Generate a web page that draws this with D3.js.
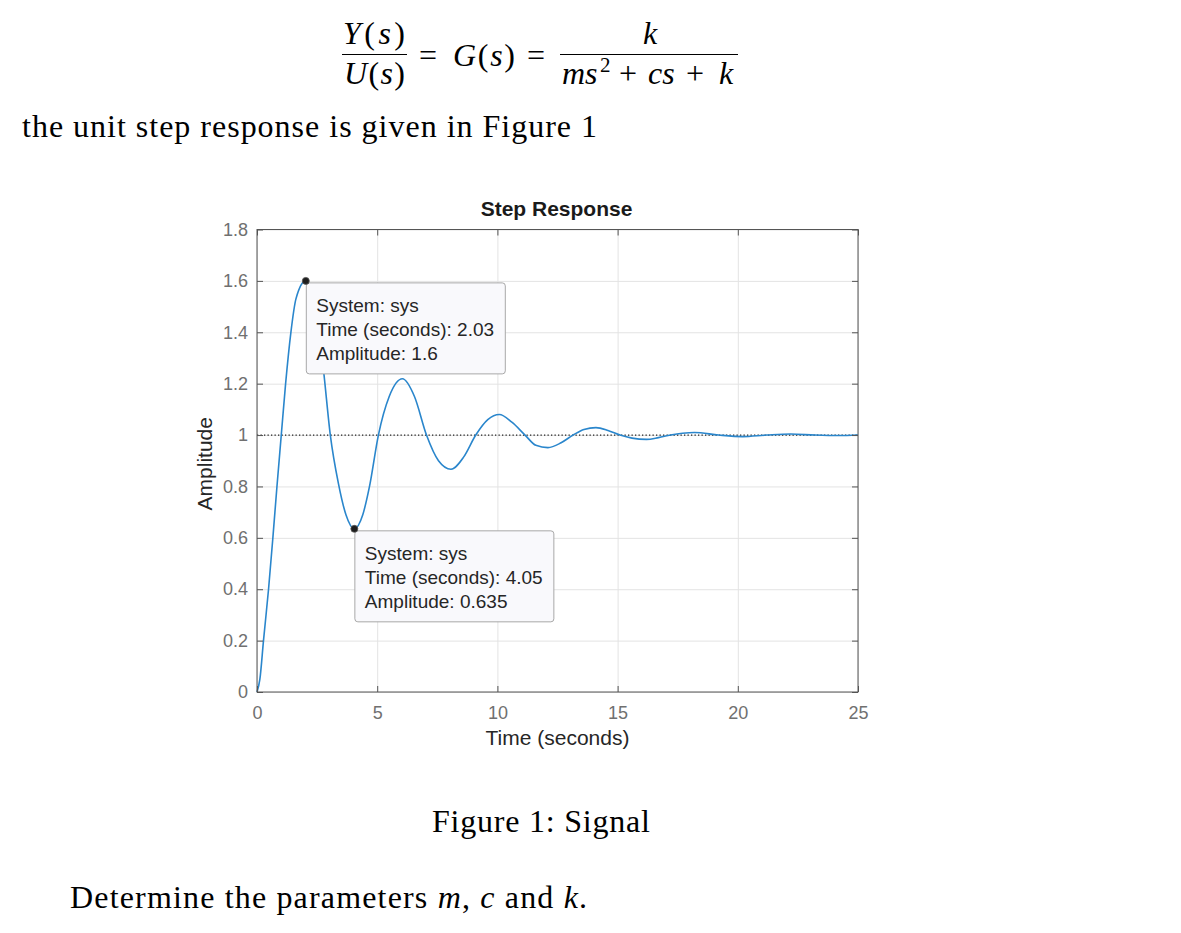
<!DOCTYPE html>
<html>
<head>
<meta charset="utf-8">
<script src="https://cdn.jsdelivr.net/npm/d3@7"></script>
<style>
  html, body { margin: 0; padding: 0; background: #ffffff; }
  svg { display: block; }
</style>
</head>
<body>
<svg id="page" width="1181" height="933"></svg>
<script>
// ---------------- data ----------------
const time = [0, 0.12, 0.27, 0.48, 0.66, 0.83, 1.01, 1.19, 1.41, 1.62, 2.03,
  2.45, 2.77, 3.05, 3.39, 3.7, 4.05, 4.4, 4.68, 5.05, 5.5, 6.05, 6.55, 7.05,
  7.55, 8.07, 8.6, 9.1, 9.6, 10.08, 10.6, 11.15, 11.6, 12.1, 12.65, 13.15,
  13.6, 14.1, 14.6, 15.1, 15.6, 16.2, 16.7, 17.2, 17.7, 18.2, 19.2, 20.2,
  21.2, 22.2, 23.2, 24.2, 25];
const amplitude = [0, 0.05, 0.2, 0.4, 0.6, 0.8, 1.0, 1.2, 1.4, 1.53, 1.6,
  1.5, 1.25, 1.0, 0.81, 0.69, 0.635, 0.69, 0.8, 1.0, 1.15, 1.219, 1.15, 1.0,
  0.9, 0.867, 0.915, 1.0, 1.06, 1.08, 1.05, 1.0, 0.96, 0.951, 0.97, 1.0,
  1.022, 1.029, 1.018, 1.0, 0.988, 0.983, 0.99, 1.0, 1.007, 1.01, 1.0, 0.994,
  1.0, 1.004, 1.0, 0.998, 1.0];
const finalValue = 1;
const xTicks = [0, 5, 10, 15, 20, 25];
const xTickLabels = ["0", "5", "10", "15", "20", "25"];
const yTicks = [0, 0.2, 0.4, 0.6, 0.8, 1, 1.2, 1.4, 1.6, 1.8];
const yTickLabels = ["0", "0.2", "0.4", "0.6", "0.8", "1", "1.2", "1.4", "1.6", "1.8"];
const tipTime = [2.03, 4.05];
const tipAmp = [1.6, 0.635];
const tipLines = [
  ["System: sys", "Time (seconds): 2.03", "Amplitude: 1.6"],
  ["System: sys", "Time (seconds): 4.05", "Amplitude: 0.635"]
];
const chartTitle = "Step Response";
const xLabel = "Time (seconds)";
const yLabel = "Amplitude";

// ---------------- layout ----------------
const svg = d3.select("#page");
const L = 257, R = 858, T = 229.5, B = 692;
const x = d3.scaleLinear().domain([0, 25]).range([L, R]);
const y = d3.scaleLinear().domain([0, 1.8]).range([B, T]);
const sans = "'Liberation Sans', Arial, Helvetica, sans-serif";
const serif = "'Liberation Serif', 'Times New Roman', serif";
const FS = 32;

// ---------------- document text ----------------
const doc = svg.append("g").attr("font-family", serif).attr("fill", "#000");
// parts: [text, style, x, dy, size]
function mathText(g, px, py, parts, len) {
  const t = g.append("text").attr("x", px).attr("y", py).attr("font-size", FS);
  parts.forEach(p => {
    const s = t.append("tspan").text(p[0]);
    if (p[1] === "i") s.attr("font-style", "italic");
    if (p[2] != null) s.attr("x", p[2]);
    if (p[3] != null) s.attr("dy", p[3]);
    if (p[4] != null) s.attr("font-size", p[4]);
  });
  if (len) t.attr("textLength", len).attr("lengthAdjust", "spacing");
  return t;
}
mathText(doc, 343, 43.5, [["Y", "i"], ["("], ["s", "i"], [")"]], 62);
doc.append("line").attr("x1", 342).attr("x2", 407).attr("y1", 54.5).attr("y2", 54.5)
  .attr("stroke", "#000").attr("stroke-width", 1.2);
mathText(doc, 344, 84, [["U", "i"], ["("], ["s", "i"], [")"]], 61);
mathText(doc, 419, 66, [["="]], 23);
mathText(doc, 453, 66, [["G", "i"], ["("], ["s", "i"], [")"]], 62);
mathText(doc, 527, 66, [["="]], 22);
mathText(doc, 643, 43.5, [["k", "i"]], 15);
doc.append("line").attr("x1", 560).attr("x2", 738).attr("y1", 54.5).attr("y2", 54.5)
  .attr("stroke", "#000").attr("stroke-width", 1.2);
mathText(doc, 562, 84, [
  ["ms", "i"], ["2", null, 600, -12, 21], ["+", null, 619, 12], ["cs", "i", 648],
  ["+", null, 686], ["k", "i", 719]
]);

doc.append("text").attr("x", 22).attr("y", 137).attr("font-size", FS)
  .attr("textLength", 575).attr("lengthAdjust", "spacing")
  .text("the unit step response is given in Figure 1");
doc.append("text").attr("x", 432).attr("y", 832).attr("font-size", FS)
  .attr("textLength", 218).attr("lengthAdjust", "spacing")
  .text("Figure 1: Signal");
const det = doc.append("text").attr("x", 70).attr("y", 908).attr("font-size", FS);
det.append("tspan").text("Determine the parameters ");
det.append("tspan").attr("font-style", "italic").text("m");
det.append("tspan").text(", ");
det.append("tspan").attr("font-style", "italic").text("c");
det.append("tspan").text(" and ");
det.append("tspan").attr("font-style", "italic").text("k");
det.append("tspan").text(".");
det.attr("textLength", 517).attr("lengthAdjust", "spacing");

// ---------------- chart ----------------
const chart = svg.append("g");
// grid
chart.append("g").attr("transform", `translate(0,${B})`)
  .call(d3.axisBottom(x).tickValues(xTicks).tickSize(-(B - T)).tickFormat(""))
  .call(g => g.select(".domain").remove())
  .call(g => g.selectAll("line").attr("stroke", "#e3e3e3"));
chart.append("g").attr("transform", `translate(${L},0)`)
  .call(d3.axisLeft(y).tickValues(yTicks).tickSize(-(R - L)).tickFormat(""))
  .call(g => g.select(".domain").remove())
  .call(g => g.selectAll("line").attr("stroke", "#e3e3e3"));

// final value dotted line
chart.append("line").attr("x1", x(0)).attr("x2", x(25))
  .attr("y1", y(finalValue)).attr("y2", y(finalValue))
  .attr("stroke", "#222").attr("stroke-width", 1.3).attr("stroke-dasharray", "1.3 2.2");

// response curve
const pts = time.map((t, i) => [t, amplitude[i]]);
chart.append("path").datum(pts)
  .attr("fill", "none").attr("stroke", "#2a86cc").attr("stroke-width", 1.6)
  .attr("d", d3.line().x(d => x(d[0])).y(d => y(d[1])).curve(d3.curveMonotoneX));

// axes (ticks inward on all sides)
const axColor = "#555";
function styleAxis(g) {
  g.select(".domain").remove();
  g.selectAll("line").attr("stroke", axColor);
  g.selectAll("text").attr("fill", "#707070").attr("font-family", sans).attr("font-size", 18);
}
chart.append("g").attr("transform", `translate(0,${B})`)
  .call(d3.axisBottom(x).tickValues(xTicks).tickFormat((d, i) => xTickLabels[i])
    .tickSizeInner(-6).tickSizeOuter(0).tickPadding(14))
  .call(styleAxis);
chart.append("g").attr("transform", `translate(0,${T})`)
  .call(d3.axisTop(x).tickValues(xTicks).tickFormat("").tickSizeInner(-6).tickSizeOuter(0))
  .call(styleAxis);
chart.append("g").attr("transform", `translate(${L},0)`)
  .call(d3.axisLeft(y).tickValues(yTicks).tickFormat((d, i) => yTickLabels[i])
    .tickSizeInner(-6).tickSizeOuter(0).tickPadding(9))
  .call(styleAxis);
chart.append("g").attr("transform", `translate(${R},0)`)
  .call(d3.axisRight(y).tickValues(yTicks).tickFormat("").tickSizeInner(-6).tickSizeOuter(0))
  .call(styleAxis);
chart.append("rect").attr("x", L).attr("y", T).attr("width", R - L).attr("height", B - T)
  .attr("fill", "none").attr("stroke", axColor).attr("stroke-width", 1);

// labels
chart.append("text").attr("x", (L + R) / 2 - 1).attr("y", 216).attr("text-anchor", "middle")
  .attr("font-family", sans).attr("font-weight", "bold").attr("font-size", 21)
  .attr("fill", "#1a1a1a").text(chartTitle);
chart.append("text").attr("x", (L + R) / 2).attr("y", 745).attr("text-anchor", "middle")
  .attr("font-family", sans).attr("font-size", 21).attr("fill", "#262626").text(xLabel);
chart.append("text").attr("transform", `translate(212,${(T + B) / 2 + 3}) rotate(-90)`)
  .attr("text-anchor", "middle").attr("font-family", sans).attr("font-size", 21)
  .attr("fill", "#262626").text(yLabel);

// data tips
tipTime.forEach((t, i) => {
  const mx = x(t), my = y(tipAmp[i]);
  const g = chart.append("g").attr("transform", `translate(${mx + 0.5},${my + 2})`);
  g.append("rect").attr("width", 199).attr("height", 91).attr("rx", 3)
    .attr("fill", "#f9f9fc").attr("stroke", "#a8a8a8").attr("stroke-width", 1);
  tipLines[i].forEach((s, j) => {
    g.append("text").attr("x", 10).attr("y", 29.5 + j * 24)
      .attr("font-family", sans).attr("font-size", 19).attr("fill", "#262626").text(s);
  });
  chart.append("circle").attr("cx", mx).attr("cy", my).attr("r", 3.5)
    .attr("fill", "#1e1e1e").attr("stroke", "#555").attr("stroke-width", 0.8);
});
</script>
</body>
</html>
